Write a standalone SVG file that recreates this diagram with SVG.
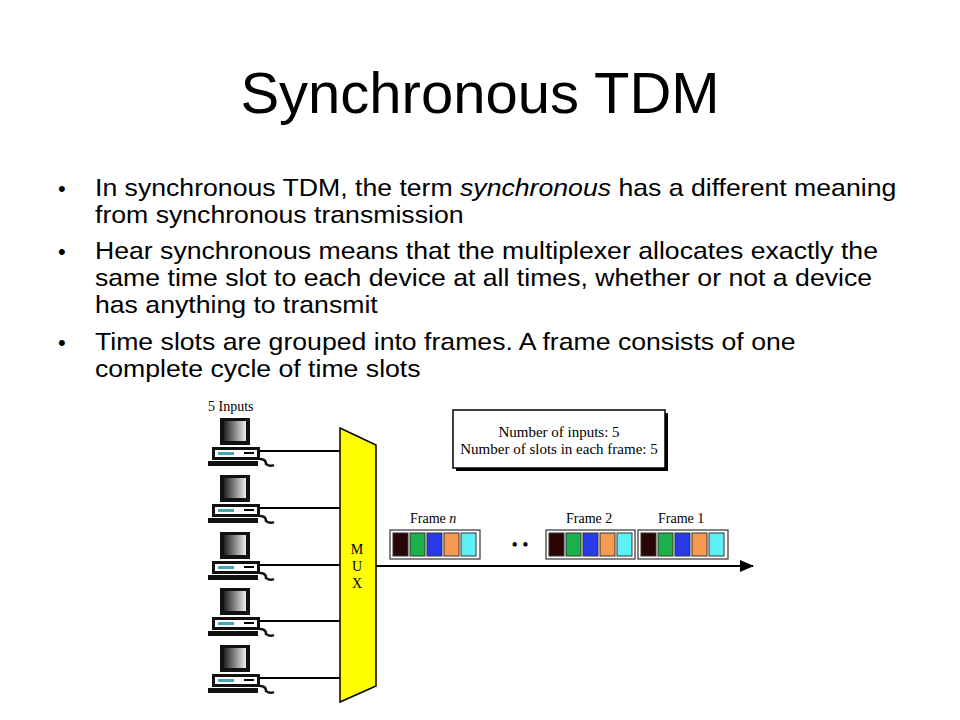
<svg xmlns="http://www.w3.org/2000/svg" width="960" height="720" viewBox="0 0 960 720">
<defs>
<style>
.t{font-family:"Liberation Sans",Arial,sans-serif;fill:#000}
.s{font-family:"Liberation Serif","Times New Roman",serif;fill:#000}
.slot{stroke:#333;stroke-width:1}
.fr{fill:#fff;stroke:#333;stroke-width:1.2}
.ln{stroke:#000;stroke-width:2;fill:none}
</style>
<linearGradient id="scr" x1="0" x2="1"><stop offset="0" stop-color="#222"/><stop offset="1" stop-color="#eee"/></linearGradient>
<marker id="ah" markerWidth="14" markerHeight="12" refX="13" refY="6" orient="auto" markerUnits="userSpaceOnUse"><path d="M0,0 L14,6 L0,12 Z" fill="#000"/></marker>
<g id="pc">
<rect x="12" y="0" width="30" height="27" fill="#111"/>
<rect x="16" y="3" width="22" height="20" fill="url(#scr)"/>
<rect x="4" y="29" width="48" height="13" fill="#111"/>
<rect x="7" y="32" width="42" height="7" fill="#fff"/>
<rect x="10" y="34" width="16" height="3" fill="#4aa3b5"/>
<rect x="36" y="34" width="10" height="2" fill="#000"/>
<rect x="0" y="43" width="50" height="5" fill="#111"/>
<path d="M52,41 q6,0 6,5 q4,3 8,1" fill="none" stroke="#111" stroke-width="2.5"/>
</g>
</defs>
<rect width="960" height="720" fill="#fff"/>
<text class="t" x="480" y="113" font-size="58" text-anchor="middle">Synchronous TDM</text>
<g class="t" font-size="22">
<text x="58" y="196">•</text><text x="58" y="259">•</text><text x="58" y="350">•</text>
</g>
<g class="t" font-size="24" transform="translate(95 0) scale(1.11 1) translate(-95 0)">
<text x="95" y="196">In synchronous TDM, the term <tspan font-style="italic">synchronous</tspan> has a different meaning</text>
<text x="95" y="223">from synchronous transmission</text>
<text x="95" y="259">Hear synchronous means that the multiplexer allocates exactly the</text>
<text x="95" y="286">same time slot to each device at all times, whether or not a device</text>
<text x="95" y="313">has anything to transmit</text>
<text x="95" y="350">Time slots are grouped into frames. A frame consists of one</text>
<text x="95" y="377">complete cycle of time slots</text>
</g>
<text class="s" x="208" y="411" font-size="14">5 Inputs</text>
<g id="connectors">
<line class="ln" x1="255" y1="451" x2="340" y2="451"/>
<line class="ln" x1="255" y1="508" x2="340" y2="508"/>
<line class="ln" x1="255" y1="565" x2="340" y2="565"/>
<line class="ln" x1="255" y1="621" x2="340" y2="621"/>
<line class="ln" x1="255" y1="678" x2="340" y2="678"/>
<line class="ln" x1="376" y1="566" x2="753" y2="566" marker-end="url(#ah)"/>
</g>
<g id="pc1"><use href="#pc" x="208" y="418"/></g>
<g id="pc2"><use href="#pc" x="208" y="475"/></g>
<g id="pc3"><use href="#pc" x="208" y="532"/></g>
<g id="pc4"><use href="#pc" x="208" y="588"/></g>
<g id="pc5"><use href="#pc" x="208" y="645"/></g>
<g id="mux">
<polygon points="340,428 376,445 376,686 340,702" fill="#ffff00" stroke="#000" stroke-width="1.5"/>
<g class="s" font-size="14" text-anchor="middle"><text x="357" y="554">M</text><text x="357" y="571">U</text><text x="357" y="588">X</text></g>
</g>
<g id="info">
<rect x="456" y="413" width="212" height="58" fill="#000"/>
<rect x="453" y="410" width="212" height="58" fill="#fff" stroke="#000" stroke-width="1.5"/>
<text class="s" x="559" y="437" font-size="15" text-anchor="middle">Number of inputs: 5</text>
<text class="s" x="559" y="454" font-size="15" text-anchor="middle">Number of slots in each frame: 5</text>
</g>
<g id="frames">
<text class="s" x="410" y="523" font-size="14">Frame <tspan font-style="italic">n</tspan></text>
<text class="s" x="566" y="523" font-size="14">Frame 2</text>
<text class="s" x="658" y="523" font-size="14">Frame 1</text>
<text class="s" x="520" y="551" font-size="18" text-anchor="middle">• •</text>
<g id="f3"><rect class="fr" x="390" y="530" width="90" height="29"/>
<rect class="slot" x="393" y="533" width="15" height="23" fill="#2a0505"/><rect class="slot" x="410" y="533" width="15" height="23" fill="#1db04a"/><rect class="slot" x="427" y="533" width="15" height="23" fill="#2a3ae8"/><rect class="slot" x="444" y="533" width="15" height="23" fill="#f59a50"/><rect class="slot" x="461" y="533" width="15" height="23" fill="#5ef0f4"/></g>
<g id="f2"><rect class="fr" x="546" y="530" width="89" height="29"/>
<rect class="slot" x="549" y="533" width="15" height="23" fill="#2a0505"/><rect class="slot" x="566" y="533" width="15" height="23" fill="#1db04a"/><rect class="slot" x="583" y="533" width="15" height="23" fill="#2a3ae8"/><rect class="slot" x="600" y="533" width="15" height="23" fill="#f59a50"/><rect class="slot" x="617" y="533" width="15" height="23" fill="#5ef0f4"/></g>
<g id="f1"><rect class="fr" x="638" y="530" width="90" height="29"/>
<rect class="slot" x="641" y="533" width="15" height="23" fill="#2a0505"/><rect class="slot" x="658" y="533" width="15" height="23" fill="#1db04a"/><rect class="slot" x="675" y="533" width="15" height="23" fill="#2a3ae8"/><rect class="slot" x="692" y="533" width="15" height="23" fill="#f59a50"/><rect class="slot" x="709" y="533" width="15" height="23" fill="#5ef0f4"/></g>
</g>
</svg>
